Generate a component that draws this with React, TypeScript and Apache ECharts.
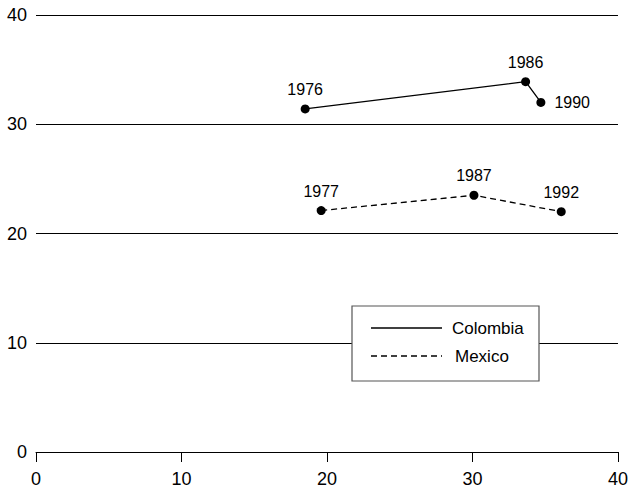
import React, { useEffect, useRef } from "react";
import * as echarts from "echarts";

const xTicks = [0, 10, 20, 30, 40];
const yTicks = [0, 10, 20, 30, 40];

const colombiaX = [18.5, 33.65, 34.7];
const colombiaY = [31.4, 33.9, 32.0];
const colombiaYears = ["1976", "1986", "1990"];
const colombiaLabelPos = ["top", "top", "right"];

const mexicoX = [19.6, 30.1, 36.1];
const mexicoY = [22.1, 23.5, 22.0];
const mexicoYears = ["1977", "1987", "1992"];
const mexicoLabelPos = ["top", "top", "top"];

const seriesNames = ["Colombia", "Mexico"];

const FONT = "'Liberation Sans', Arial, Helvetica, sans-serif";

function buildData(xs: number[], ys: number[], years: string[], pos: string[]) {
  return xs.map((x, i) => ({
    value: [x, ys[i]],
    label: {
      show: true,
      formatter: years[i],
      position: pos[i],
      distance: pos[i] === "right" ? 9 : 7,
      color: "#000",
      fontSize: 16,
      fontFamily: FONT,
    },
  }));
}

export default function App() {
  const ref = useRef<HTMLDivElement>(null);
  useEffect(() => {
    if (!ref.current) return;
    const chart = echarts.init(ref.current, undefined, { renderer: "svg" });
    chart.setOption({
      animation: false,
      backgroundColor: "#fff",
      grid: { left: 36, right: 11, top: 15, bottom: 35, containLabel: false },
      xAxis: {
        type: "value",
        min: xTicks[0],
        max: xTicks[xTicks.length - 1],
        interval: 10,
        axisLine: { show: true, onZero: false, lineStyle: { color: "#000", width: 1 } },
        axisTick: { show: true, inside: false, length: 10, lineStyle: { color: "#000", width: 1 } },
        axisLabel: { color: "#000", fontSize: 18, fontFamily: FONT, margin: 18 },
        splitLine: { show: false },
      },
      yAxis: {
        type: "value",
        min: yTicks[0],
        max: yTicks[yTicks.length - 1],
        interval: 10,
        axisLine: { show: false },
        axisTick: { show: false },
        axisLabel: { color: "#000", fontSize: 18, fontFamily: FONT, margin: 9 },
        splitLine: { show: true, lineStyle: { color: "#000", width: 1 } },
      },
      series: [
        {
          name: seriesNames[0],
          type: "line",
          data: buildData(colombiaX, colombiaY, colombiaYears, colombiaLabelPos),
          symbol: "circle",
          symbolSize: 9,
          itemStyle: { color: "#000" },
          lineStyle: { color: "#000", width: 1.3, type: "solid" },
          z: 5,
        },
        {
          name: seriesNames[1],
          type: "line",
          data: buildData(mexicoX, mexicoY, mexicoYears, mexicoLabelPos),
          symbol: "circle",
          symbolSize: 9,
          itemStyle: { color: "#000" },
          lineStyle: { color: "#000", width: 1.3, type: [6, 4] },
          z: 5,
        },
      ],
      graphic: [
        {
          type: "rect",
          x: 352,
          y: 306,
          z: 100,
          shape: { x: 0, y: 0, width: 187, height: 75 },
          style: { fill: "#fff", stroke: "#555", lineWidth: 1.2 },
        },
        {
          type: "line",
          z: 101,
          shape: { x1: 371, y1: 328, x2: 442, y2: 328 },
          style: { stroke: "#000", lineWidth: 1.3 },
        },
        {
          type: "text",
          z: 101,
          x: 452,
          y: 328,
          style: { text: seriesNames[0], fill: "#000", fontSize: 17, fontFamily: FONT, verticalAlign: "middle", align: "left" },
        },
        {
          type: "line",
          z: 101,
          shape: { x1: 371, y1: 356, x2: 442, y2: 356 },
          style: { stroke: "#000", lineWidth: 1.3, lineDash: [6, 4] },
        },
        {
          type: "text",
          z: 101,
          x: 455,
          y: 356,
          style: { text: seriesNames[1], fill: "#000", fontSize: 17, fontFamily: FONT, verticalAlign: "middle", align: "left" },
        },
      ],
    });
    return () => chart.dispose();
  }, []);
  return <div ref={ref} style={{ width: 631, height: 488, position: "absolute", left: 0, top: 0 }} />;
}
